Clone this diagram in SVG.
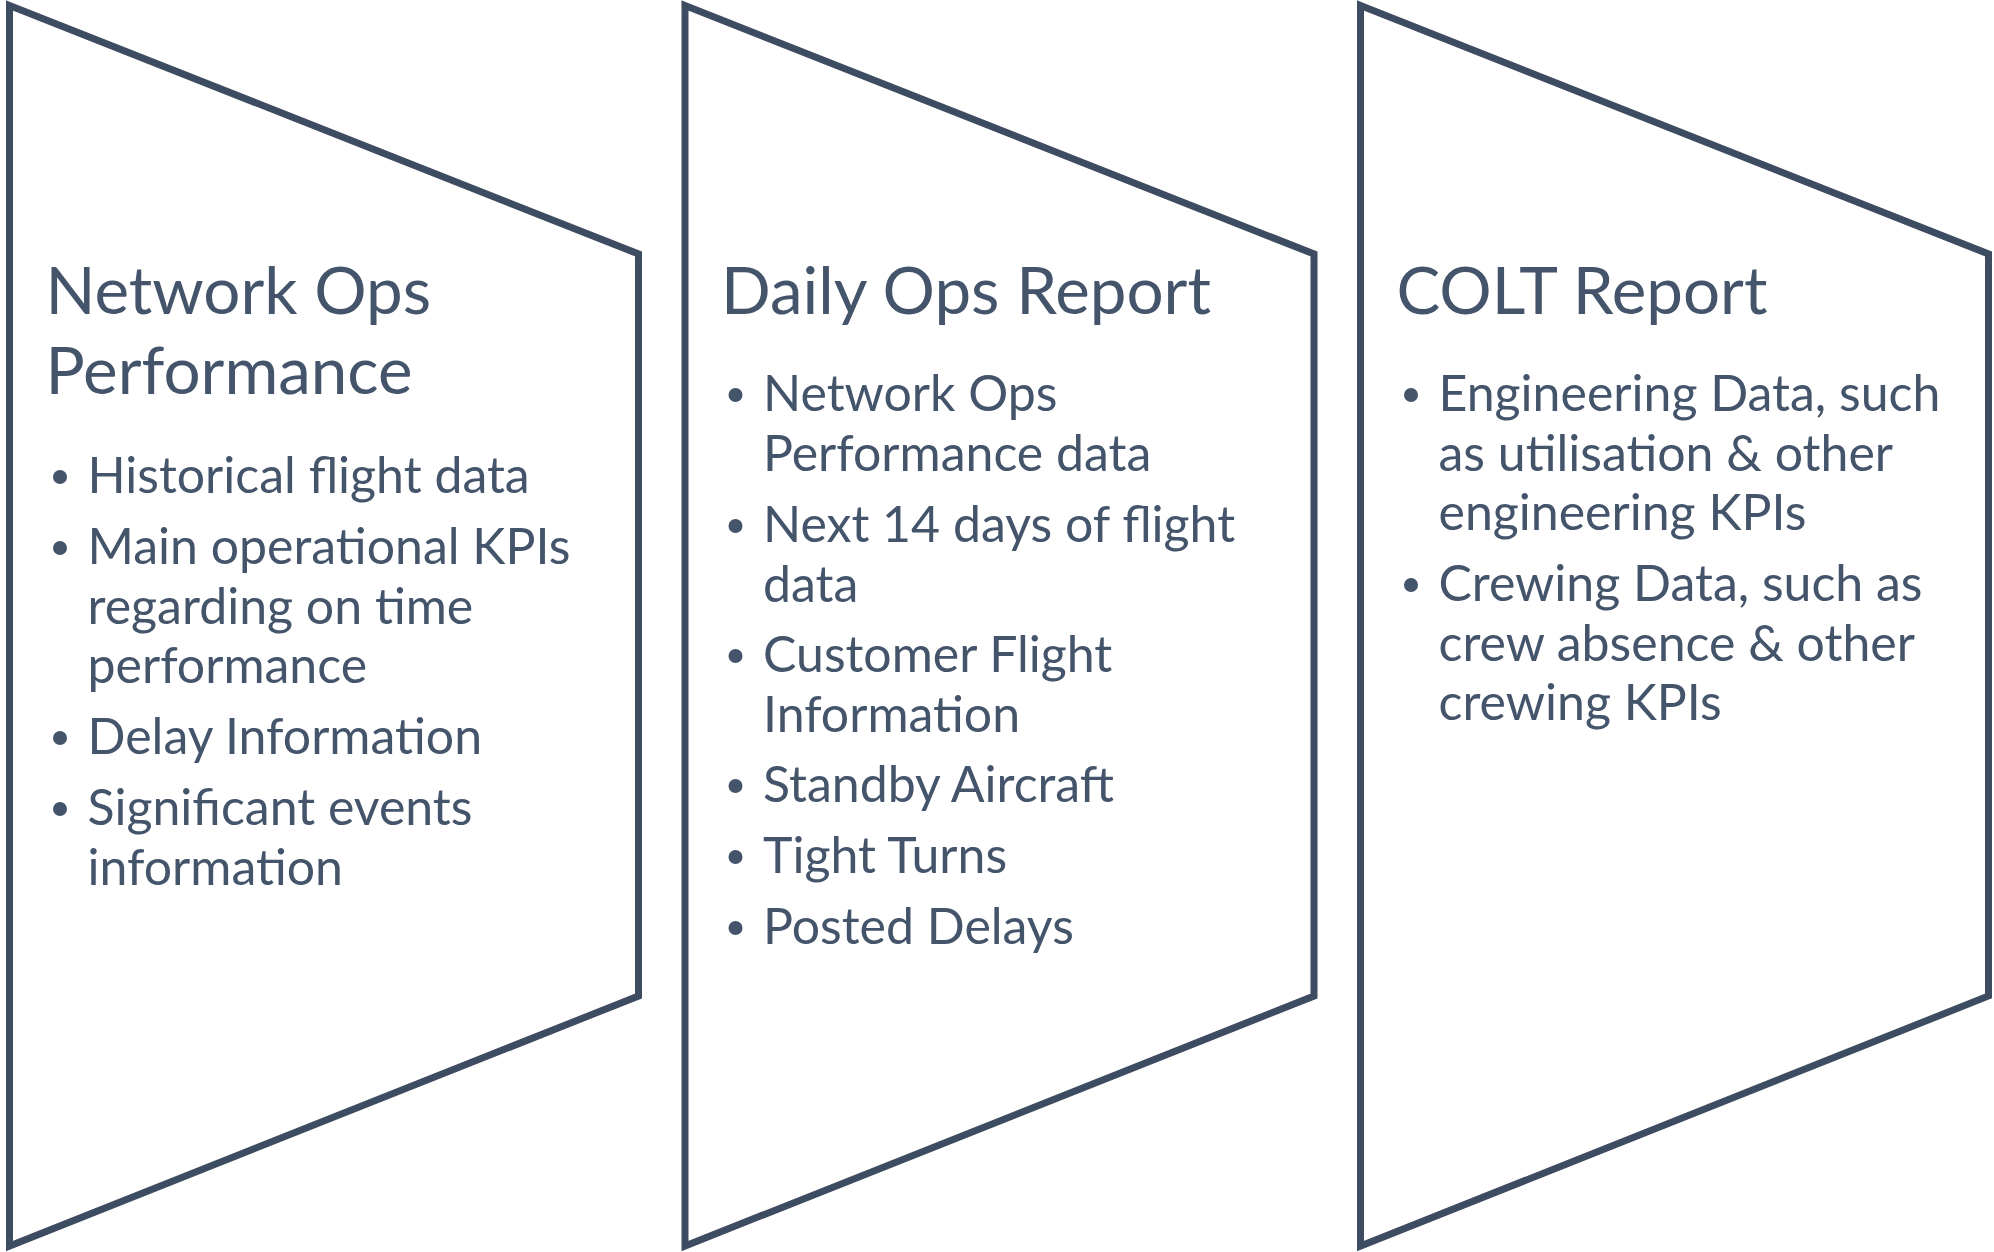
<svg xmlns="http://www.w3.org/2000/svg" width="1994" height="1252" viewBox="0 0 1994 1252">
  <style>
    .shape { fill: #ffffff; stroke: #3E4C61; stroke-width: 7; stroke-linejoin: miter; }
    .title { font-family: Lato, "Open Sans", sans-serif; font-size: 65.5px; fill: #44546A; }
    .item { font-family: Lato, "Open Sans", sans-serif; font-size: 50px; fill: #44546A; }
    .dot { fill: #44546A; }
  </style>
  <rect x="0" y="0" width="1994" height="1252" fill="#ffffff"/>
  <g id="connectors"></g>

  <g id="node-network-ops">
    <path class="shape" d="M9.5,5.5 L638.5,254 L638.5,996 L9.5,1246 Z"/>
    <text class="title" x="45.5" y="314">Network Ops</text>
    <text class="title" x="45.5" y="394">Performance</text>
    <circle class="dot" cx="60" cy="477" r="7"/>
    <text class="item" x="87.5" y="493">Historical flight data</text>
    <circle class="dot" cx="60" cy="548" r="7"/>
    <text class="item" x="87.5" y="564">Main operational KPIs</text>
    <text class="item" x="87.5" y="623.5">regarding on time</text>
    <text class="item" x="87.5" y="683">performance</text>
    <circle class="dot" cx="60" cy="738" r="7"/>
    <text class="item" x="87.5" y="754">Delay Information</text>
    <circle class="dot" cx="60" cy="809" r="7"/>
    <text class="item" x="87.5" y="825">Significant events</text>
    <text class="item" x="87.5" y="884.5">information</text>
  </g>

  <g id="node-daily-ops">
    <path class="shape" d="M685,5.5 L1314,254 L1314,996 L685,1246 Z"/>
    <text class="title" x="721" y="314">Daily Ops Report</text>
    <circle class="dot" cx="735.5" cy="395" r="7"/>
    <text class="item" x="763" y="411">Network Ops</text>
    <text class="item" x="763" y="470.5">Performance data</text>
    <circle class="dot" cx="735.5" cy="526" r="7"/>
    <text class="item" x="763" y="542">Next 14 days of flight</text>
    <text class="item" x="763" y="601.5">data</text>
    <circle class="dot" cx="735.5" cy="656" r="7"/>
    <text class="item" x="763" y="672">Customer Flight</text>
    <text class="item" x="763" y="731.5">Information</text>
    <circle class="dot" cx="735.5" cy="786" r="7"/>
    <text class="item" x="763" y="802">Standby Aircraft</text>
    <circle class="dot" cx="735.5" cy="857" r="7"/>
    <text class="item" x="763" y="873">Tight Turns</text>
    <circle class="dot" cx="735.5" cy="928" r="7"/>
    <text class="item" x="763" y="944">Posted Delays</text>
  </g>

  <g id="node-colt">
    <path class="shape" d="M1360.5,5.5 L1988.5,254 L1988.5,996 L1360.5,1246 Z"/>
    <text class="title" x="1396.5" y="314">COLT Report</text>
    <circle class="dot" cx="1411" cy="395" r="7"/>
    <text class="item" x="1438.5" y="411">Engineering Data, such</text>
    <text class="item" x="1438.5" y="470.5">as utilisation &amp; other</text>
    <text class="item" x="1438.5" y="530">engineering KPIs</text>
    <circle class="dot" cx="1411" cy="585" r="7"/>
    <text class="item" x="1438.5" y="601">Crewing Data, such as</text>
    <text class="item" x="1438.5" y="660.5">crew absence &amp; other</text>
    <text class="item" x="1438.5" y="720">crewing KPIs</text>
  </g>
</svg>
